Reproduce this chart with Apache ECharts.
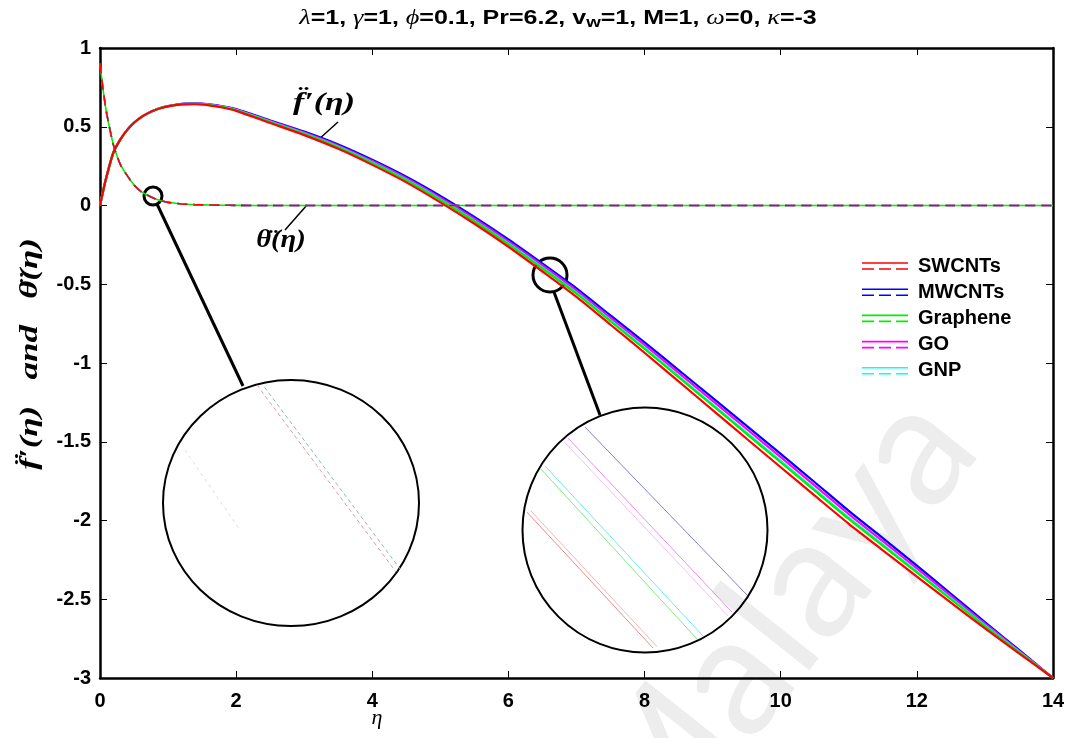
<!DOCTYPE html>
<html><head><meta charset="utf-8">
<script src="https://cdn.jsdelivr.net/npm/echarts@6/dist/echarts.min.js"></script>
<style>html,body{margin:0;padding:0;background:#fff}#c{width:1077px;height:738px}</style>
</head><body><div id="c"></div>
<script>
// ---------- data ----------
const eta = [0,0.05,0.1,0.2,0.3,0.4,0.5,0.6,0.7,0.8,0.9,1.0,1.2,1.4,1.6,1.8,2.0,2.5,3.0,3.5,4.0,4.5,5.0,5.5,6.0,6.5,7.0,7.5,8.0,8.5,9.0,9.5,10.0,10.5,11.0,11.5,12.0,12.5,13.0,13.5,14.0];

const fSWCNTs   = [0,0.10,0.19,0.34,0.42,0.48,0.525,0.56,0.585,0.605,0.619,0.629,0.642,0.643,0.636,0.622,0.601,0.524,0.447,0.360,0.258,0.147,0.020,-0.116,-0.262,-0.419,-0.580,-0.757,-0.935,-1.117,-1.299,-1.481,-1.662,-1.842,-2.021,-2.189,-2.356,-2.521,-2.685,-2.843,-3.0];
const fMWCNTs   = [0,0.10,0.19,0.34,0.42,0.48,0.525,0.56,0.585,0.605,0.621,0.631,0.645,0.648,0.642,0.630,0.612,0.540,0.469,0.387,0.290,0.182,0.060,-0.073,-0.216,-0.369,-0.526,-0.698,-0.869,-1.045,-1.222,-1.399,-1.577,-1.757,-1.939,-2.112,-2.287,-2.465,-2.645,-2.822,-3.0];
const fGraphene = [0,0.10,0.19,0.34,0.42,0.48,0.525,0.56,0.585,0.605,0.620,0.630,0.643,0.645,0.638,0.625,0.605,0.530,0.455,0.370,0.270,0.160,0.035,-0.100,-0.245,-0.400,-0.560,-0.735,-0.910,-1.090,-1.270,-1.450,-1.630,-1.810,-1.990,-2.160,-2.330,-2.500,-2.670,-2.835,-3.0];
const fGO       = [0,0.10,0.19,0.34,0.42,0.48,0.525,0.56,0.585,0.605,0.621,0.631,0.644,0.647,0.640,0.628,0.609,0.536,0.463,0.380,0.282,0.173,0.050,-0.084,-0.228,-0.381,-0.540,-0.713,-0.885,-1.063,-1.241,-1.419,-1.598,-1.778,-1.959,-2.131,-2.304,-2.479,-2.655,-2.827,-3.0];
const fGNP      = [0,0.10,0.19,0.34,0.42,0.48,0.525,0.56,0.585,0.605,0.620,0.630,0.643,0.645,0.639,0.626,0.606,0.532,0.457,0.373,0.273,0.163,0.039,-0.096,-0.241,-0.395,-0.555,-0.729,-0.904,-1.083,-1.263,-1.442,-1.622,-1.802,-1.982,-2.153,-2.324,-2.495,-2.666,-2.833,-3.0];

// theta'' curves (the five materials coincide at this scale)
const thetaSWCNTs   = [0.90,0.72,0.58,0.38,0.26,0.19,0.13,0.09,0.065,0.045,0.03,0.02,0.01,0.005,0.003,0.002,0.001,0,0,0,0,0,0,0,0,0,0,0,0,0,0,0,0,0,0,0,0,0,0,0,0];
const thetaMWCNTs   = [0.90,0.72,0.58,0.38,0.26,0.19,0.13,0.09,0.065,0.045,0.03,0.02,0.01,0.005,0.003,0.002,0.001,0,0,0,0,0,0,0,0,0,0,0,0,0,0,0,0,0,0,0,0,0,0,0,0];
const thetaGraphene = [0.90,0.72,0.58,0.38,0.26,0.19,0.13,0.09,0.065,0.045,0.03,0.02,0.01,0.005,0.003,0.002,0.001,0,0,0,0,0,0,0,0,0,0,0,0,0,0,0,0,0,0,0,0,0,0,0,0];
const thetaGO       = [0.90,0.72,0.58,0.38,0.26,0.19,0.13,0.09,0.065,0.045,0.03,0.02,0.01,0.005,0.003,0.002,0.001,0,0,0,0,0,0,0,0,0,0,0,0,0,0,0,0,0,0,0,0,0,0,0,0];
const thetaGNP      = [0.90,0.72,0.58,0.38,0.26,0.19,0.13,0.09,0.065,0.045,0.03,0.02,0.01,0.005,0.003,0.002,0.001,0,0,0,0,0,0,0,0,0,0,0,0,0,0,0,0,0,0,0,0,0,0,0,0];

const seriesNames = ['SWCNTs','MWCNTs','Graphene','GO','GNP'];
const xTickLabels = ['0','2','4','6','8','10','12','14'];
const yTickLabels = ['-3','-2.5','-2','-1.5','-1','-0.5','0','0.5','1'];

// magnified views (inset coordinates 0..100 inside each lens)
const lensRightSWCNTs  = [[1.6,57.1],[53.1,1.6]];
const lensRightSWCNTs2 = [[3.2,57.6],[54.7,2.2]];
const lensRightMWCNTs  = [[25.3,91.8],[91.4,23.3]];
const lensRightGraphene= [[7.3,74.7],[71.0,5.3]];
const lensRightGO      = [[18.4,87.3],[85.3,16.3]];
const lensRightGO2     = [[16.9,85.7],[83.7,14.7]];
const lensRightGNP     = [[9.0,75.9],[73.5,6.5]];
const lensLeftA = [[36.7,98.0],[91.0,22.0]];
const lensLeftB = [[38.7,98.4],[92.6,23.2]];
const lensLeftC = [[8.6,71.5],[30.1,39.0]];

// ---------- chart ----------
const colors = {SWCNTs:'#ff0000', MWCNTs:'#0000ff', Graphene:'#00ee00', GO:'#ff00ff', GNP:'#00ffff'};
const fData = {SWCNTs:fSWCNTs, MWCNTs:fMWCNTs, Graphene:fGraphene, GO:fGO, GNP:fGNP};
const tData = {SWCNTs:thetaSWCNTs, MWCNTs:thetaMWCNTs, Graphene:thetaGraphene, GO:thetaGO, GNP:thetaGNP};
const pairs = arr => eta.map((x,i)=>[x,arr[i]]);

const drawOrder = ['MWCNTs','GO','GNP','Graphene','SWCNTs'];
const series = [];
drawOrder.forEach((n,k)=>{
  series.push({name:n, type:'line', xAxisIndex:0, yAxisIndex:0, data:pairs(fData[n]), showSymbol:false,
    smooth:0.25, lineStyle:{color:colors[n], width:2.2}, itemStyle:{color:colors[n]}, z:3+k, silent:true});
});
drawOrder.forEach((n,k)=>{
  series.push({name:n+' theta', type:'line', xAxisIndex:0, yAxisIndex:0, data:pairs(tData[n]), showSymbol:false,
    smooth:0.25,
    lineStyle:{color:colors[n], width:1.6, type:[10,6], dashOffset: n==='Graphene'?8:0}, itemStyle:{color:colors[n]}, z:3+k, silent:true});
});
function lens(name, data, color, gi, opts){
  series.push(Object.assign({name:name, type:'line', xAxisIndex:gi, yAxisIndex:gi, data:data, showSymbol:false,
    lineStyle:{color:color, width:1}, silent:true, z:6}, opts||{}));
}
lens('lrSW', lensRightSWCNTs, '#f08a8a', 2);
lens('lrSW2', lensRightSWCNTs2, '#f7b5b5', 2);
lens('lrMW', lensRightMWCNTs, '#7f7fd8', 2);
lens('lrGr', lensRightGraphene, '#86e886', 2);
lens('lrGO', lensRightGO, '#f08cf0', 2);
lens('lrGO2', lensRightGO2, '#f6c0f6', 2);
lens('lrGNP', lensRightGNP, '#6cecec', 2);
lens('llA', lensLeftA, '#e9a0a8', 3, {lineStyle:{color:'#e39aa4', width:1, type:[4,3]}});
lens('llB', lensLeftB, '#8fc9c9', 3, {lineStyle:{color:'#8fb9b9', width:1, type:[4,3], dashOffset:3}});
lens('llC', lensLeftC, '#dddddd', 3, {lineStyle:{color:'#dcdcdc', width:1, type:[3,4]}});

const axisFont = {color:'#000', fontSize:20, fontWeight:'bold', fontFamily:'Liberation Sans, Arial, sans-serif'};
const mathFont = "'Liberation Serif','DejaVu Serif',serif";

const option = {
  animation:false,
  backgroundColor:'#fff',
  grid:[
    {left:100, right:24, top:48, bottom:60},
    {left:100, right:24, top:48, bottom:60},
    {left:523, top:407, width:245, height:245},
    {left:163, top:380, width:256, height:246}
  ],
  xAxis:[
    {gridIndex:0, type:'value', min:0, max:14, interval:2,
     axisLine:{show:true, onZero:false, lineStyle:{color:'#000', width:2.5}},
     axisTick:{show:true, inside:true, length:7, lineStyle:{color:'#000', width:1}},
     axisLabel:Object.assign({margin:13, formatter:v=>xTickLabels[Math.round(v/2)]}, axisFont),
     splitLine:{show:false}},
    {gridIndex:1, type:'value', min:0, max:14, interval:2, position:'top',
     axisLine:{show:true, onZero:false, lineStyle:{color:'#000', width:2.5}},
     axisTick:{show:true, inside:true, length:7, lineStyle:{color:'#000', width:1}},
     axisLabel:{show:false}, splitLine:{show:false}},
    {gridIndex:2, type:'value', min:0, max:100, show:false},
    {gridIndex:3, type:'value', min:0, max:100, show:false}
  ],
  yAxis:[
    {gridIndex:0, type:'value', min:-3, max:1, interval:0.5,
     axisLine:{show:true, onZero:false, lineStyle:{color:'#000', width:2.5}},
     axisTick:{show:true, inside:true, length:7, lineStyle:{color:'#000', width:1}},
     axisLabel:Object.assign({margin:9, formatter:v=>yTickLabels[Math.round((v+3)*2)]}, axisFont),
     splitLine:{show:false}},
    {gridIndex:1, type:'value', min:-3, max:1, interval:0.5, position:'right',
     axisLine:{show:true, onZero:false, lineStyle:{color:'#000', width:2.5}},
     axisTick:{show:true, inside:true, length:7, lineStyle:{color:'#000', width:1}},
     axisLabel:{show:false}, splitLine:{show:false}},
    {gridIndex:2, type:'value', min:0, max:100, show:false},
    {gridIndex:3, type:'value', min:0, max:100, show:false}
  ],
  legend:{
    orient:'vertical', left:862, top:256, padding:0, itemWidth:46, itemHeight:7.6, itemGap:6.2,
    icon:'path://M0,0L46,0L46,1.6L0,1.6Z M0,6L12,6L12,7.6L0,7.6Z M17,6L29,6L29,7.6L17,7.6Z M34,6L46,6L46,7.6L34,7.6Z',
    itemStyle:{borderWidth:0},
    textStyle:{fontSize:20, lineHeight:20, fontWeight:'bold', fontFamily:'Liberation Sans, Arial, sans-serif', color:'#000', padding:[0,0,0,5]},
    data:seriesNames.map(n=>({name:n, itemStyle:{color:colors[n], borderWidth:0}})),
    selectedMode:false
  },
  graphic:[
    // watermark
    {type:'text', z:-10, x:775, y:625, rotation:0.9, silent:true,
     style:{text:'Malaya', fill:'#ededed', font:'170px Lato, sans-serif', textAlign:'center', textVerticalAlign:'middle'}},
    // title
    {type:'text', x:558, y:8, scaleX:1.25, silent:true,
     style:{text:'{g|\u03BB}{a|=1, }{g|\u03B3}{a|=1, }{g|\u03D5}{a|=0.1, Pr=6.2, v}{s|w}{a|=1, M=1, }{g|\u03C9}{a|=0, }{g|\u03BA}{a|=-3}',
       textAlign:'center', textVerticalAlign:'top',
       rich:{
         a:{fontSize:20, fontWeight:'bold', fontFamily:'Liberation Sans, Arial, sans-serif', fill:'#000', lineHeight:22, verticalAlign:'top'},
         g:{fontSize:21, fontStyle:'italic', fontFamily:mathFont, fill:'#000', lineHeight:22, verticalAlign:'top'},
         s:{fontSize:15, fontWeight:'bold', fontFamily:'Liberation Sans, Arial, sans-serif', fill:'#000', lineHeight:15, padding:[13,0,0,0], verticalAlign:'bottom'}
       }}},
    // y axis label
    {type:'text', x:31, y:354, rotation:Math.PI/2, scaleX:1.4, silent:true,
     style:{text:'f\u0308\u2032(\u03B7)   and   \u03B8\u0308(\u03B7)', font:'italic bold 25px '+mathFont, fill:'#000', textAlign:'center', textVerticalAlign:'middle'}},
    // annotations
    {type:'text', x:324, y:103, scaleX:1.3, silent:true,
     style:{text:'f\u0308\u2032(\u03B7)', font:'italic bold 26px '+mathFont, fill:'#000', textAlign:'center', textVerticalAlign:'middle'}},
    {type:'line', silent:true, shape:{x1:338, y1:122, x2:318, y2:140}, style:{stroke:'#000', lineWidth:1.5}},
    {type:'text', x:281, y:240, scaleX:1.1, silent:true,
     style:{text:'\u03B8\u0308(\u03B7)', font:'italic bold 26px '+mathFont, fill:'#000', textAlign:'center', textVerticalAlign:'middle'}},
    {type:'line', silent:true, shape:{x1:307, y1:205, x2:285, y2:230}, style:{stroke:'#000', lineWidth:1.5}},
    // x axis name
    {type:'text', x:377, y:718, silent:true,
     style:{text:'\u03B7', font:'italic 22px '+mathFont, fill:'#000', textAlign:'center', textVerticalAlign:'middle'}},
    // lenses
    {type:'circle', silent:true, shape:{cx:153, cy:196, r:9}, style:{fill:'none', stroke:'#000', lineWidth:3}},
    {type:'line', silent:true, shape:{x1:157, y1:204, x2:243, y2:386}, style:{stroke:'#000', lineWidth:3}},
    {type:'ellipse', silent:true, shape:{cx:291, cy:503, rx:128, ry:123}, style:{fill:'none', stroke:'#000', lineWidth:2}},
    {type:'circle', silent:true, shape:{cx:550, cy:275, r:17}, style:{fill:'none', stroke:'#000', lineWidth:3}},
    {type:'line', silent:true, shape:{x1:554, y1:292, x2:600, y2:415}, style:{stroke:'#000', lineWidth:3}},
    {type:'circle', silent:true, shape:{cx:645, cy:530, r:122.5}, style:{fill:'none', stroke:'#000', lineWidth:2}}
  ],
  series:series
};
const chart = echarts.init(document.getElementById('c'), null, {renderer:'canvas'});
chart.setOption(option);
</script></body></html>
